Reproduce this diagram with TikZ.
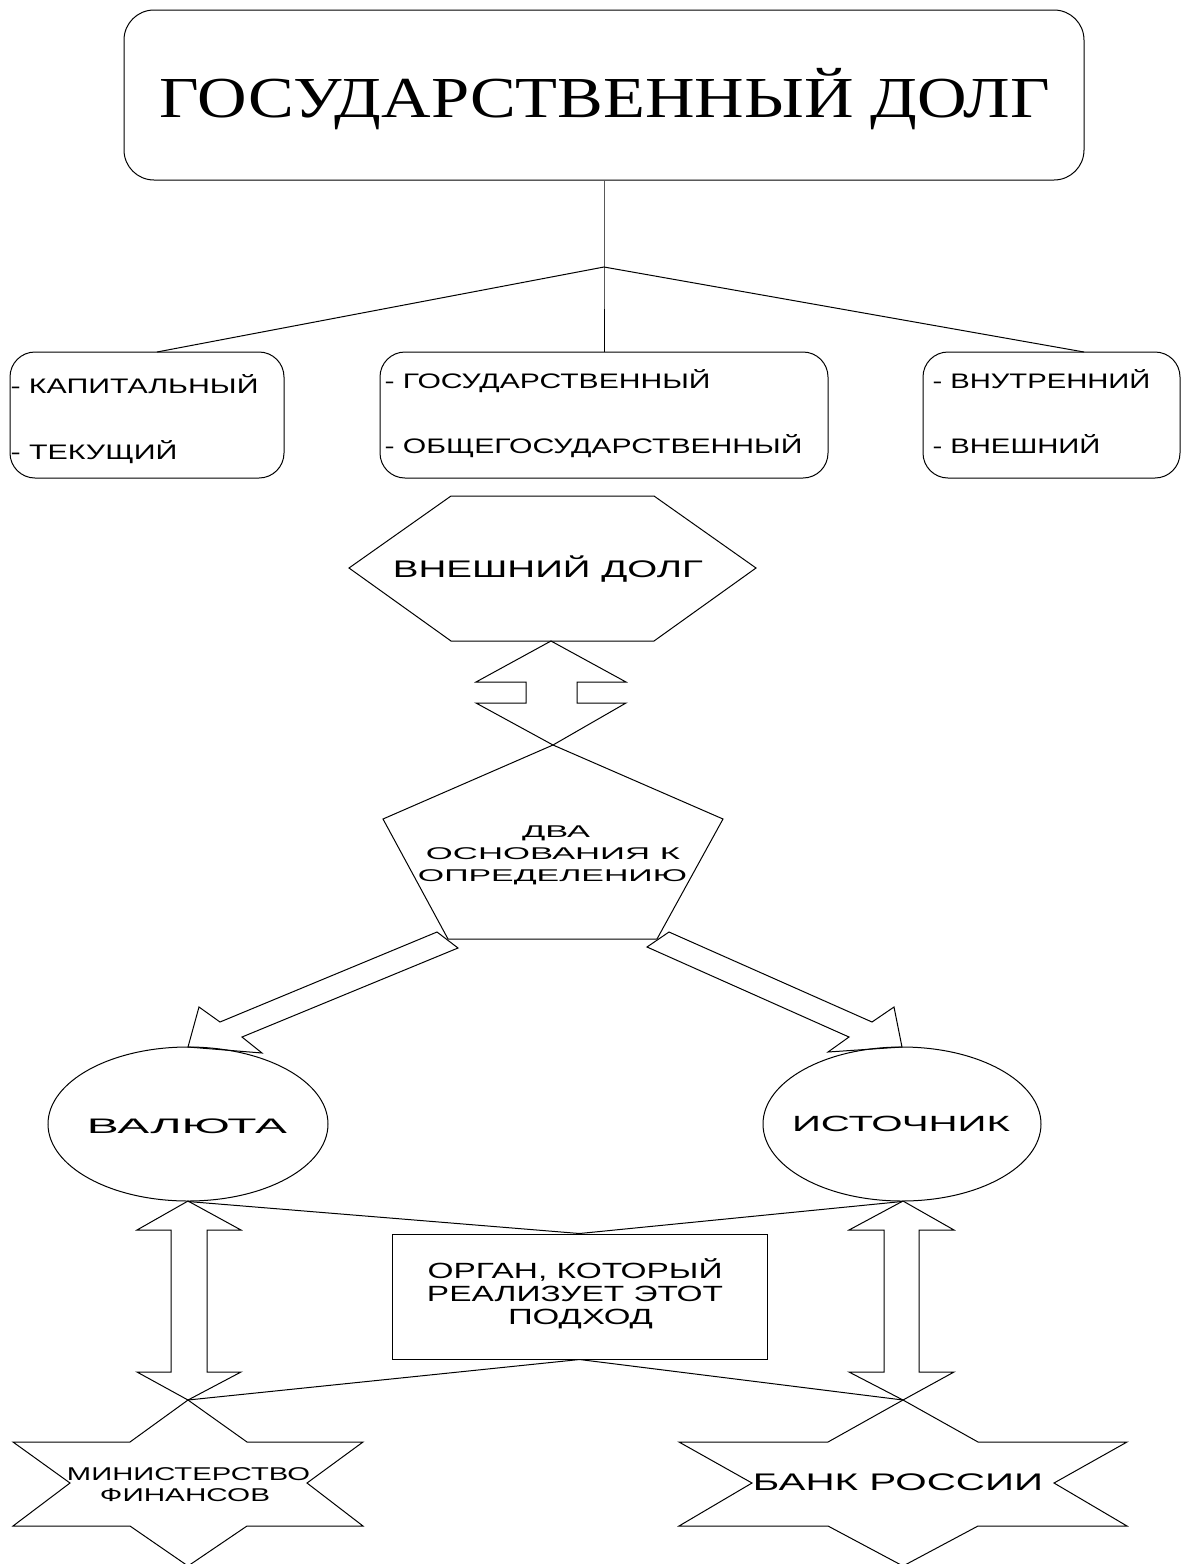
\documentclass[tikz,border=0pt]{standalone}
\usepackage{fontspec}
\usepackage{graphicx}
\setmainfont{Liberation Sans}
\newfontfamily\titlefont{Liberation Serif}
\usetikzlibrary{shapes.geometric}
\newcommand{\wtext}[2]{\resizebox{#1pt}{\height}{#2}}
\begin{document}
\begin{tikzpicture}[x=1pt,y=-1pt,line width=1pt,
  roundbox/.style={draw,rounded corners=#1,inner sep=0pt},
  itemtext/.style={anchor=base west,inner sep=0pt,font=\fontsize{21}{24}\selectfont},
  lbl/.style={anchor=base,inner sep=0pt},
  shapeline/.style={draw,line join=miter},
  link/.style={draw}]
\useasboundingbox (0,0) rectangle (1186,1564);
% top
\node[roundbox=30pt,minimum width=960pt,minimum height=170pt] (top) at (604,95) {};
\node[lbl,font=\titlefont\fontsize{58}{60}\selectfont] (title) at (605,117) {\wtext{890}{ГОСУДАРСТВЕННЫЙ ДОЛГ}};
% three boxes
\node[roundbox=25pt,minimum width=274pt,minimum height=126pt] (b1) at (147,415) {};
\node[roundbox=25pt,minimum width=448pt,minimum height=126pt] (b2) at (604,415) {};
\node[roundbox=25pt,minimum width=257pt,minimum height=126pt] (b3) at (1051.5,415) {};
\node[itemtext] (b1a) at (10,393) {\wtext{248}{- КАПИТАЛЬНЫЙ}};
\node[itemtext] (b1b) at (10,459) {\wtext{167}{- ТЕКУЩИЙ}};
\node[itemtext] (b2a) at (384,388) {\wtext{326}{- ГОСУДАРСТВЕННЫЙ}};
\node[itemtext] (b2b) at (384,453) {\wtext{418}{- ОБЩЕГОСУДАРСТВЕННЫЙ}};
\node[itemtext] (b3a) at (932,388) {\wtext{218}{- ВНУТРЕННИЙ}};
\node[itemtext] (b3b) at (932,453) {\wtext{168}{- ВНЕШНИЙ}};
% tree lines
\coordinate (j1) at (604,267);
\coordinate (b1n) at (157,352);
\coordinate (b3n) at (1084,352);
\draw[link] (top.south) -- (j1) -- (b2.north);
\draw[link] (b1n) -- (j1) -- (b3n);
% hexagon
\draw[shapeline] (349,568) -- (451,496) -- (654,496) -- (756,568) -- (654,641) -- (451,641) -- cycle;
\node[lbl,font=\fontsize{24}{28}\selectfont] (hex) at (548,577) {\wtext{310}{ВНЕШНИЙ ДОЛГ}};
% double arrow hex-pent
\draw[shapeline] (551,641) -- (626,682) -- (577,682) -- (577,703) -- (626,703) -- (553,745)
  -- (476,703) -- (526,703) -- (526,682) -- (476,682) -- cycle;
% pentagon
\draw[shapeline] (553,745) -- (723,819) -- (657,939) -- (448,939) -- (383,819) -- cycle;
\node[lbl,font=\fontsize{17}{22}\selectfont] (p1) at (556,837) {\wtext{68}{ДВА}};
\node[lbl,font=\fontsize{17}{22}\selectfont] (p2) at (553,859) {\wtext{254}{ОСНОВАНИЯ К}};
\node[lbl,font=\fontsize{17}{22}\selectfont] (p3) at (552.5,881) {\wtext{269}{ОПРЕДЕЛЕНИЮ}};
% block arrows
\draw[shapeline] (437,932) -- (220,1022) -- (199,1007) -- (188,1047) -- (262,1053) -- (242,1037) -- (458,948) -- cycle;
\draw[shapeline] (669,932) -- (872,1022) -- (894,1007) -- (902,1047) -- (828,1052) -- (849,1037) -- (647,947) -- cycle;
% ellipses
\node[draw,ellipse,minimum width=280pt,minimum height=154pt,inner sep=0pt] (val) at (188,1124) {};
\node[lbl,font=\fontsize{21}{26}\selectfont] (valt) at (187,1133) {\wtext{200}{ВАЛЮТА}};
\node[draw,ellipse,minimum width=278pt,minimum height=154pt,inner sep=0pt] (ist) at (902,1124) {};
\node[lbl,font=\fontsize{22}{26}\selectfont] (istt) at (901,1131) {\wtext{218}{ИСТОЧНИК}};
% organ box
\node[draw,minimum width=375pt,minimum height=125pt,inner sep=0pt] (org) at (579.5,1296.5) {};
\node[lbl,font=\fontsize{22}{23}\selectfont] (o1) at (575,1278) {\wtext{295}{ОРГАН, КОТОРЫЙ}};
\node[lbl,font=\fontsize{22}{23}\selectfont] (o2) at (575,1301) {\wtext{296}{РЕАЛИЗУЕТ ЭТОТ}};
\node[lbl,font=\fontsize{22}{23}\selectfont] (o3) at (580.5,1324) {\wtext{145}{ПОДХОД}};
\coordinate (s1) at (188,1400);
\coordinate (s2) at (903,1400);
\draw[link] (val.south) -- (org.north) -- (ist.south);
\draw[link] (s1) -- (org.south) -- (s2);
% vertical double arrows
\draw[shapeline] (188,1201) -- (241,1230) -- (207,1230) -- (207,1372) -- (241,1372) -- (188,1400)
  -- (137,1372) -- (171,1372) -- (171,1230) -- (137,1230) -- cycle;
\draw[shapeline] (903,1201) -- (954,1230) -- (919,1230) -- (919,1372) -- (954,1372) -- (903,1400)
  -- (849,1372) -- (884,1372) -- (884,1230) -- (849,1230) -- cycle;
% stars
\draw[shapeline] (188,1400) -- (247,1442) -- (363,1442) -- (307,1483) -- (363,1526) -- (247,1526) -- (188,1566)
  -- (130,1526) -- (13,1526) -- (70,1483) -- (13,1442) -- (130,1442) -- cycle;
\node[lbl,font=\fontsize{18.5}{21}\selectfont] (mf1) at (188.5,1480) {\wtext{243}{МИНИСТЕРСТВО}};
\node[lbl,font=\fontsize{18.5}{21}\selectfont] (mf2) at (185,1501) {\wtext{170}{ФИНАНСОВ}};
\draw[shapeline] (903,1400) -- (978,1442) -- (1127,1442) -- (1054,1483) -- (1127,1526) -- (978,1526) -- (903,1566)
  -- (828,1526) -- (679,1526) -- (752,1483) -- (679,1442) -- (828,1442) -- cycle;
\node[lbl,font=\fontsize{24}{26}\selectfont] (br) at (898,1490) {\wtext{290}{БАНК РОССИИ}};
\end{tikzpicture}
\end{document}
